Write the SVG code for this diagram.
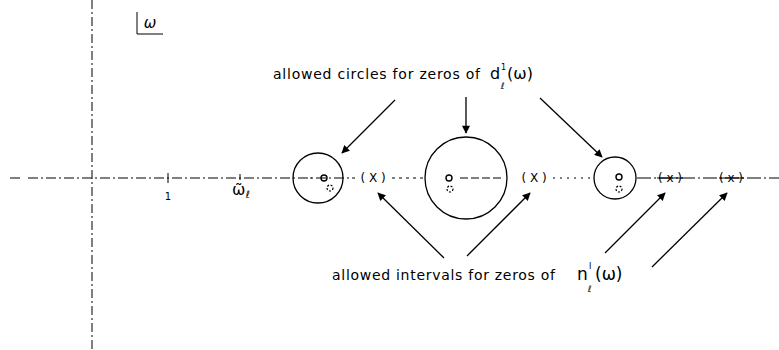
<svg xmlns="http://www.w3.org/2000/svg" width="779" height="350" viewBox="0 0 779 350">
<defs>
<style>
.ax{stroke:#000;stroke-width:1;fill:none}
.c{fill:none;stroke:#000;stroke-width:1.3}
.z{fill:none;stroke:#000;stroke-width:1.4}
.dz{fill:none;stroke:#000;stroke-width:1.2;stroke-dasharray:2 1.6}
.t{font-family:"DejaVu Sans","Liberation Sans",sans-serif;fill:#000}
.lab{font-size:14px}
.arr{stroke:#000;stroke-width:1.3;fill:none;marker-end:url(#ah)}
</style>
<marker id="ah" viewBox="0 0 10 10" refX="9" refY="5" markerUnits="userSpaceOnUse" markerWidth="12" markerHeight="8" orient="auto">
<path d="M0,0 L10,5 L0,10 z" fill="#000"/>
</marker>
</defs>
<rect width="779" height="350" fill="#fff"/>

<g id="axes">
<line class="ax" x1="92" y1="0" x2="92" y2="350" stroke-dasharray="9 3 2 3"/>
<line class="ax" x1="10" y1="178" x2="20" y2="178" stroke-width="1.5"/>
<line class="ax" x1="28" y1="178" x2="355" y2="178" stroke-dasharray="10 3 2 3"/>
<line class="ax" x1="392" y1="178" x2="425" y2="178" stroke-dasharray="3 4"/>
<line class="ax" x1="460" y1="178" x2="503" y2="178" stroke-dasharray="8 3"/>
<line class="ax" x1="553" y1="178" x2="594" y2="178" stroke-dasharray="2 5"/>
<line class="ax" x1="637" y1="178" x2="779" y2="178" stroke-dasharray="14 3 2 3"/>
<line class="ax" x1="168" y1="173" x2="168" y2="183"/>
<line class="ax" x1="240" y1="174" x2="240" y2="180"/>
</g>

<g id="omega-box">
<line class="ax" x1="137" y1="12" x2="137" y2="34" stroke-width="1.3"/>
<line class="ax" x1="137" y1="34" x2="163" y2="34" stroke-width="1.3"/>
<text class="t" x="150" y="28" font-size="15" text-anchor="middle" font-style="italic">ω</text>
</g>

<g id="tick-labels">
<text class="t" x="168" y="200" font-size="10" text-anchor="middle">1</text>
<text class="t" x="232" y="195" font-size="16">ω̃<tspan font-size="10" dy="3">ℓ</tspan></text>
</g>

<g id="circle1">
<circle class="c" cx="318" cy="178" r="25"/>
<circle class="z" cx="324" cy="178" r="3"/>
<circle class="dz" cx="330" cy="188" r="3"/>
<circle cx="311" cy="178" r="0.8" fill="#000"/>
</g>

<g id="circle2">
<circle class="c" cx="466" cy="178" r="41"/>
<circle class="z" cx="449" cy="178" r="3"/>
<circle class="dz" cx="450" cy="189" r="3"/>
</g>

<g id="circle3">
<circle class="c" cx="615" cy="178" r="21"/>
<circle class="z" cx="619" cy="177" r="3"/>
<circle class="dz" cx="619" cy="189" r="3"/>
</g>

<g id="intervals">
<text class="t" x="373" y="182" font-size="12" text-anchor="middle">( X )</text>
<text class="t" x="534" y="182" font-size="12" text-anchor="middle">( X )</text>
<text class="t" x="670" y="182" font-size="12" text-anchor="middle">( x )</text>
<text class="t" x="731" y="182" font-size="12" text-anchor="middle">( x )</text>
<line class="ax" x1="657" y1="178" x2="683" y2="178"/>
<line class="ax" x1="719" y1="178" x2="744" y2="178"/>
</g>

<g id="label-circles">
<text class="t lab" x="273" y="79" textLength="207" lengthAdjust="spacing">allowed circles for zeros of</text>
<text class="t" x="490" y="79" font-size="16">d</text>
<text class="t" x="501" y="70" font-size="8">1</text>
<text class="t" x="501" y="89" font-size="9">ℓ</text>
<text class="t" x="507" y="79" font-size="16">(ω)</text>
</g>

<g id="label-intervals">
<text class="t lab" x="332" y="280" textLength="223" lengthAdjust="spacing">allowed intervals for zeros of</text>
<text class="t" x="577" y="280" font-size="17">n</text>
<text class="t" x="589" y="269" font-size="8">I</text>
<text class="t" x="588" y="292" font-size="9">ℓ</text>
<text class="t" x="595" y="280" font-size="17">(ω)</text>
</g>

<g id="connectors">
<line class="arr" x1="395" y1="100" x2="342" y2="153"/>
<line class="arr" x1="466" y1="97" x2="466" y2="133"/>
<line class="arr" x1="540" y1="98" x2="602" y2="157"/>
<line class="arr" x1="444" y1="258" x2="378" y2="193"/>
<line class="arr" x1="467" y1="256" x2="530" y2="193"/>
<line class="arr" x1="605" y1="253" x2="665" y2="193"/>
<line class="arr" x1="652" y1="267" x2="727" y2="193"/>
</g>
</svg>
